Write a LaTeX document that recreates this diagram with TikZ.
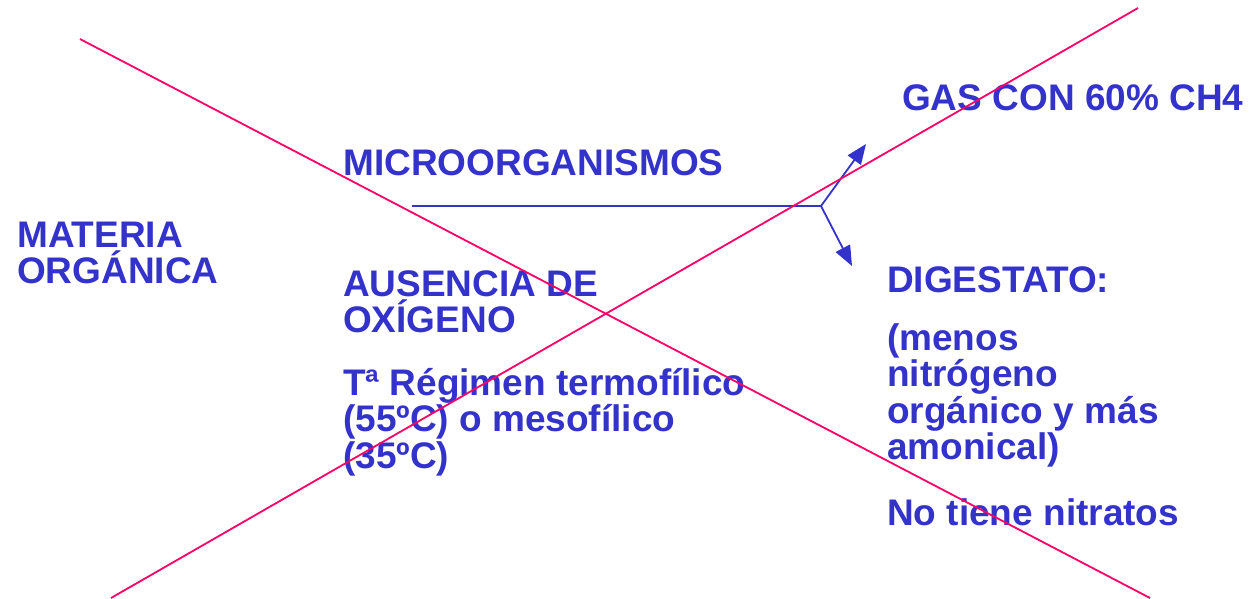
\documentclass[tikz,border=0pt]{standalone}
\usepackage{fontspec}
\setmainfont{Liberation Sans}
\usetikzlibrary{arrows.meta}
\definecolor{txtblue}{HTML}{3333CC}
\definecolor{crossred}{HTML}{FF0066}
\newcommand{\mlines}[1]{\vtop{\baselineskip=36.5pt\lineskiplimit=-\maxdimen\lineskip=0pt\halign{##\hfil\cr#1\crcr}}}
\tikzset{
  lbl/.style={anchor=base west, inner sep=0pt, text=txtblue,
    font=\fontsize{37}{36.5}\selectfont\bfseries},
  cross/.style={draw=crossred, line width=1.8pt},
  flow/.style={draw=txtblue, line width=1.8pt},
  tip/.style={-{Triangle[length=20pt,width=16pt]}}
}
\begin{document}
\begin{tikzpicture}[x=1pt,y=-1pt]
\useasboundingbox (0,0) rectangle (1250,598);
% text
\node[lbl] (mat) at (17,247) {\mlines{MATERIA\cr ORGÁNICA}};
\node[lbl] (mic) at (343,175) {MICROORGANISMOS};
\node[lbl] (aus) at (343,296) {\mlines{AUSENCIA DE\cr OXÍGENO}};
\node[lbl] (temp) at (343,395) {\mlines{Tª Régimen termofílico\cr (55ºC) o mesofílico\cr (35ºC)}};
\node[lbl] (gas) at (902,110) {GAS CON 60\% CH4};
\node[lbl] (dig) at (887,292) {DIGESTATO:};
\node[lbl] (men) at (887,350) {\mlines{(menos\cr nitrógeno\cr orgánico y más\cr amonical)}};
\node[lbl] (nit) at (887,525) {No tiene nitratos};
% flow arrow
\coordinate (start) at (412,206);
\coordinate (junc) at (821,206);
\coordinate (up) at (866,144);
\coordinate (down) at (852,266);
\draw[flow] (start) -- (junc);
\draw[flow,tip] (junc) -- (up);
\draw[flow,tip] (junc) -- (down);
% cross
\coordinate (a1) at (80,39);
\coordinate (a2) at (1150,598);
\coordinate (b1) at (111,598);
\coordinate (b2) at (1138,8);
\draw[cross] (a1) -- (a2);
\draw[cross] (b1) -- (b2);
\end{tikzpicture}
\end{document}
